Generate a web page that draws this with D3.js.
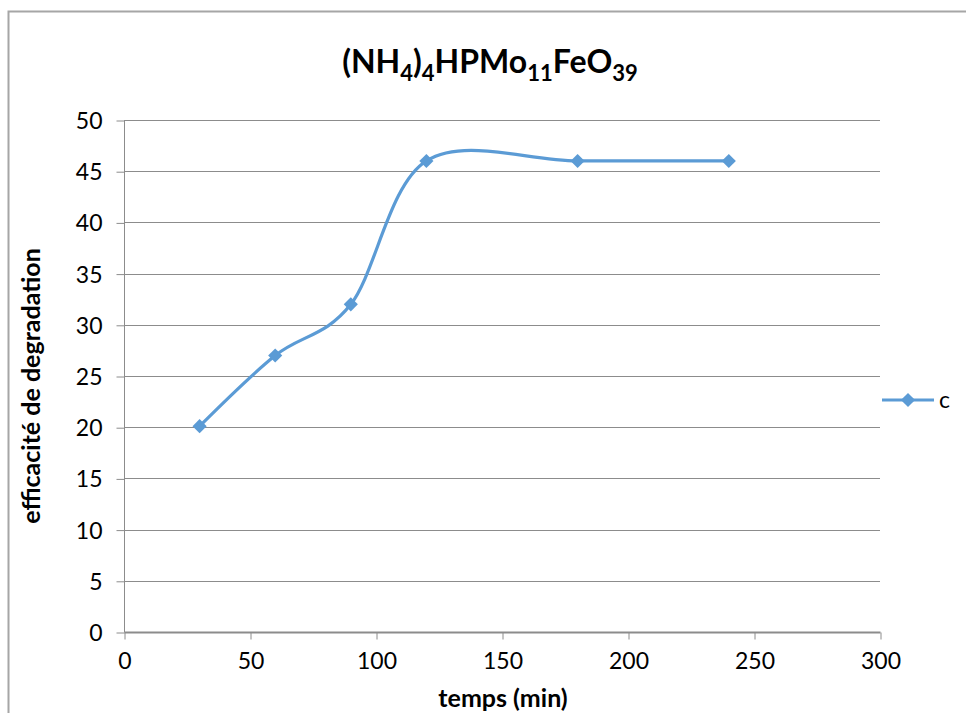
<!DOCTYPE html>
<html>
<head>
<meta charset="utf-8">
<script src="https://cdn.jsdelivr.net/npm/d3@7"></script>
<style>
  html, body { margin: 0; padding: 0; background: #fff; }
  svg { display: block; }
  text { font-family: Lato, "Open Sans", "DejaVu Sans", sans-serif; fill: #000; }
</style>
</head>
<body>
<script>
// Degradation efficiency over time for the Fe-substituted polyoxometalate
const times = [30, 60, 90, 120, 180, 240];
const efficiency = [20.1, 27, 32, 46, 46, 46];
const seriesName = "c";
const xTicks = [0, 50, 100, 150, 200, 250, 300];
const yTicks = [0, 5, 10, 15, 20, 25, 30, 35, 40, 45, 50];

const W = 966, H = 713;
const plot = { left: 124, right: 880, top: 120, bottom: 632 };
const blue = "#5b9bd5";
const grid = "#8c8c8c";

const svg = d3.select("body").append("svg").attr("width", W).attr("height", H);

// Chart frame
svg.append("path")
  .attr("d", `M8.5,${H} V11.5 H${W}`)
  .attr("fill", "none").attr("stroke", "#a6a6a6").attr("stroke-width", 2);

const x = d3.scaleLinear().domain([0, 300]).range([plot.left, plot.right]);
const y = d3.scaleLinear().domain([0, 50]).range([plot.bottom, plot.top]);

// Horizontal gridlines
svg.append("g").selectAll("line").data(yTicks.filter(d => d > 0)).join("line")
  .attr("x1", plot.left).attr("x2", plot.right)
  .attr("y1", d => Math.round(y(d)) + 0.5).attr("y2", d => Math.round(y(d)) + 0.5)
  .attr("stroke", grid).attr("stroke-width", 1);

// Y axis
const yAxis = svg.append("g").attr("transform", `translate(${plot.left + 0.5},0.5)`)
  .call(d3.axisLeft(y).tickValues(yTicks).tickSize(8).tickPadding(14).tickFormat(d3.format("d")));
yAxis.select(".domain").attr("stroke", grid).attr("d", `M0,${plot.top}V${plot.bottom}`);
yAxis.selectAll(".tick line").attr("stroke", grid);
yAxis.selectAll(".tick text").style("font-size", "23px").attr("dy", "0.35em");

// X axis
const xAxis = svg.append("g").attr("transform", `translate(0.5,${plot.bottom + 0.5})`)
  .call(d3.axisBottom(x).tickValues(xTicks).tickSize(7).tickPadding(13).tickFormat(d3.format("d")));
xAxis.select(".domain").attr("stroke", grid).attr("stroke-width", 2).attr("d", `M${plot.left},0H${plot.right}`);
xAxis.selectAll(".tick line").attr("stroke", grid);
xAxis.selectAll(".tick text").style("font-size", "23px");

// Series: smoothed line with diamond markers
const pts = times.map((t, i) => [t, efficiency[i]]);
const line = d3.line().x(d => x(d[0])).y(d => y(d[1])).curve(d3.curveCardinal.tension(0));
svg.append("path").datum(pts).attr("d", line)
  .attr("fill", "none").attr("stroke", blue).attr("stroke-width", 3.2).attr("stroke-linejoin", "round");

const marker = d3.symbol().type(d3.symbolSquare).size(100);
svg.append("g").selectAll("path").data(pts).join("path")
  .attr("transform", d => `translate(${x(d[0])},${y(d[1])}) rotate(45)`)
  .attr("d", marker)
  .attr("fill", blue);

// Legend
const lg = svg.append("g").attr("transform", "translate(882,400)");
lg.append("line").attr("x1", 0).attr("x2", 52).attr("y1", 0).attr("y2", 0)
  .attr("stroke", blue).attr("stroke-width", 3.2);
lg.append("path").attr("transform", "translate(26,0) rotate(45)")
  .attr("d", marker).attr("fill", blue);
lg.append("text").attr("x", 57).attr("y", 0).attr("dy", "0.35em").style("font-size", "23px").text(seriesName);

// Title with subscripts
const title = svg.append("text").attr("x", 490).attr("y", 73).attr("text-anchor", "middle")
  .style("font-size", "32px").style("font-weight", "bold");
const parts = [["(NH", false], ["4", true], [")", false], ["4", true], ["HPMo", false], ["11", true], ["FeO", false], ["39", true]];
let shifted = false;
parts.forEach(([t, sub]) => {
  const ts = title.append("tspan").text(t);
  if (sub) { ts.style("font-size", "22px").attr("dy", shifted ? 0 : 8); shifted = true; }
  else { ts.attr("dy", shifted ? -8 : 0); shifted = false; }
});

// Axis titles
svg.append("text").attr("x", 503).attr("y", 707).attr("text-anchor", "middle")
  .style("font-size", "25px").style("font-weight", "bold").text("temps (min)");
svg.append("text").attr("transform", "translate(40,386) rotate(-90)").attr("text-anchor", "middle")
  .style("font-size", "25px").style("font-weight", "bold").text("efficacité de degradation");
</script>
</body>
</html>
